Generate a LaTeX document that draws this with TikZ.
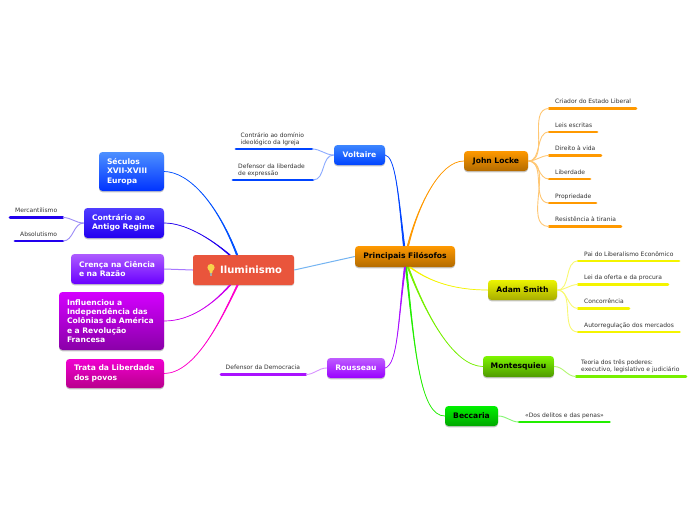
\documentclass[tikz,border=0pt]{standalone}
\usepackage{fontspec}
\setmainfont{DejaVu Sans}
\usetikzlibrary{calc,shadows}
\definecolor{cblue}{HTML}{0044FF}
\definecolor{cblueb}{HTML}{0050FF}
\definecolor{cindigo}{HTML}{2200EE}
\definecolor{cviolet}{HTML}{A878FF}
\definecolor{cmag}{HTML}{CC00EE}
\definecolor{cpink}{HTML}{FF00CC}
\definecolor{corange}{HTML}{FF9900}
\definecolor{cyell}{HTML}{F4F400}
\definecolor{clime}{HTML}{77F000}
\definecolor{cgreen}{HTML}{22EE00}
\definecolor{cpurple}{HTML}{AA11FF}
\definecolor{rootred}{HTML}{E9553C}
\definecolor{rootline}{HTML}{74B4F2}
\definecolor{bulb}{HTML}{F7D44C}
\definecolor{secT}{HTML}{4D90FF}\definecolor{secB}{HTML}{0033FF}
\definecolor{conT}{HTML}{4F3DFF}\definecolor{conB}{HTML}{2200F0}
\definecolor{creT}{HTML}{AE5CFF}\definecolor{creB}{HTML}{6A00FF}
\definecolor{infT}{HTML}{D400FF}\definecolor{infB}{HTML}{8A00A8}
\definecolor{traT}{HTML}{F000D0}\definecolor{traB}{HTML}{B8008C}
\definecolor{orgT}{HTML}{FF9900}\definecolor{orgB}{HTML}{B36B00}
\definecolor{volT}{HTML}{3D86FF}\definecolor{volB}{HTML}{0044FF}
\definecolor{smiT}{HTML}{ECF400}\definecolor{smiB}{HTML}{A8AD00}
\definecolor{monT}{HTML}{7DF500}\definecolor{monB}{HTML}{4F9A00}
\definecolor{becT}{HTML}{00F000}\definecolor{becB}{HTML}{00A800}
\definecolor{rouT}{HTML}{BE5CFF}\definecolor{rouB}{HTML}{9900FF}
\tikzset{
  box/.style={rounded corners=3.5pt,inner sep=0pt,align=left,
    font=\fontsize{7.6}{9.4}\selectfont\bfseries,text=white,
    copy shadow={shadow xshift=0pt,shadow yshift=-1.3pt,draw=none,fill=black,opacity=.22}},
  leaftext/.style={anchor=south west,inner sep=0pt,align=left,text=black!80,
    font=\fontsize{6}{7.2}\selectfont,text depth=1.3pt},
  rule/.style={line width=2.8pt,line cap=round},
  branch/.style={line width=1pt},
}
% name, centre x, centre y, width, height, top colour, bottom colour, extra, text
\newcommand{\topic}[9]{\node[box,minimum width=#4pt,minimum height=#5pt,top color=#6,bottom color=#7,#8] (#1) at (#2,#3) {#9};}
% name, text x, line x1, line x2, line y, colour, text
\newcommand{\leaf}[7]{%
  \node[leaftext] (#1) at (#2,#5-3.2) {#7};
  \coordinate (#1a) at (#3,#5);
  \coordinate (#1b) at (#4,#5);
  \draw[rule,#6] (#1a) -- (#1b);}
% colour, thin end, c1, c2, thick end
\newcommand{\taper}[5]{\filldraw[#1,line width=.7pt,line join=round] (#2) .. controls #3 and #4 .. ($(#5)+(-.7,0)$) -- ($(#5)+(.7,0)$) .. controls #4 and #3 .. (#2) -- cycle;}
\begin{document}
\begin{tikzpicture}[x=1pt,y=-1pt]
\useasboundingbox (0,0) rectangle (696,520);
\fill[white] (0,0) rectangle (696,520);
% main topics
\topic{sec}{131.5}{171.5}{65}{39}{secT}{secB}{text width=49pt}{Séculos\\XVII-XVIII\\Europa}
\topic{con}{124}{223}{80}{30}{conT}{conB}{text width=64pt}{Contrário ao\\Antigo Regime}
\topic{cre}{117.5}{269}{93}{30}{creT}{creB}{text width=77pt}{Crença na Ciência\\e na Razão}
\topic{inf}{111.5}{321}{105}{58}{infT}{infB}{text width=89pt}{Influenciou a\\Independência das\\Colônias da América\\e a Revolução\\Francesa}
\topic{tra}{115}{373.5}{98}{29}{traT}{traB}{text width=82pt}{Trata da Liberdade\\dos povos}
\node[rounded corners=2.5pt,fill=rootred,minimum width=101pt,minimum height=30pt,inner sep=0pt,
  copy shadow={shadow xshift=0pt,shadow yshift=-1pt,draw=none,fill=black,opacity=.15}] (root) at (243.5,270) {};
\node[anchor=west,inner sep=0pt,text=white,font=\fontsize{10}{12}\selectfont\bfseries] (roott) at (220,270) {Iluminismo};
\topic{fil}{405}{256.5}{100}{21}{orgT}{orgB}{text=black,align=center}{Principais Filósofos}
\topic{vol}{359.5}{155}{51}{20}{volT}{volB}{align=center}{Voltaire}
\topic{loc}{496}{161}{64}{20}{orgT}{orgB}{text=black,align=center}{John Locke}
\topic{smi}{522.5}{290}{69}{20}{smiT}{smiB}{text=black,align=center}{Adam Smith}
\topic{mon}{518.5}{366.5}{71}{21}{monT}{monB}{text=black,align=center}{Montesquieu}
\topic{bec}{471.5}{416}{53}{20}{becT}{becB}{text=black,align=center}{Beccaria}
\topic{rou}{356}{368}{58}{20}{rouT}{rouB}{align=center}{Rousseau}
% bulb
\fill[bulb] (211,267.5) circle (3.6pt);
\fill[bulb] (209,269) -- (213,269) -- (212.2,273) -- (209.8,273) -- cycle;
\fill[black!35] (209.7,273.2) rectangle (212.3,275.6);
% hub points
\coordinate (rootA) at ($(root.north)+(-6.5,0)$);
\coordinate (rootB) at ($(root.north)+(-14,0)$);
\coordinate (rootC) at ($(root.south)+(-13.5,0)$);
\coordinate (rootD) at ($(root.south)+(-6,0)$);
\coordinate (filA) at ($(fil.north)+(-1,0)$);
\coordinate (filB) at ($(fil.north)+(3,0)$);
\coordinate (filC) at ($(fil.south)+(5,0)$);
\coordinate (filD) at ($(fil.south)+(3,0)$);
\coordinate (filE) at ($(fil.south)+(1,0)$);
\coordinate (filF) at ($(fil.south)+(0,0)$);
% root connectors
\taper{cblueb}{sec.east}{(190,172)}{(218,205)}{rootA}
\taper{cindigo}{con.east}{(185,223)}{(210,238)}{rootB}
\draw[branch,cviolet] (cre.east) -- (root.west);
\taper{cmag}{inf.east}{(190,321)}{(212,305)}{rootC}
\taper{cpink}{tra.east}{(195,373)}{(220,322)}{rootD}
\draw[rootline,line width=1pt] (root.east) -- (fil.west);
% philosopher connectors
\taper{cblue}{vol.east}{(395,157)}{(398,190)}{filA}
\taper{corange}{loc.west}{(440,161)}{(418,205)}{filB}
\taper{cyell}{smi.west}{(455,290)}{(430,282)}{filC}
\taper{clime}{mon.west}{(455,366)}{(428,320)}{filD}
\taper{cgreen}{bec.west}{(420,416)}{(415,350)}{filE}
\taper{cpurple}{rou.east}{(398,364)}{(398,320)}{filF}
% leaves
\leaf{mer}{15}{10}{63}{217.5}{cindigo}{Mercantilismo}
\leaf{abs}{20}{15}{63}{241}{cindigo}{Absolutismo}
\leaf{vo1}{240.5}{236}{312}{149}{cblue}{Contrário ao domínio\\ideológico da Igreja}
\leaf{vo2}{238}{233}{313}{180}{cblue}{Defensor da liberdade\\de expressão}
\leaf{lo1}{555}{549}{636}{108.5}{corange}{Criador do Estado Liberal}
\leaf{lo2}{555}{549}{597}{132}{corange}{Leis escritas}
\leaf{lo3}{555}{549}{601}{155.5}{corange}{Direito à vida}
\leaf{lo4}{555}{549}{590}{179}{corange}{Liberdade}
\leaf{lo5}{555}{549}{596}{203}{corange}{Propriedade}
\leaf{lo6}{555}{549}{621}{226.5}{corange}{Resistência à tirania}
\leaf{sm1}{584}{578}{679}{261}{cyell}{Pai do Liberalismo Econômico}
\leaf{sm2}{584}{578}{668}{284.5}{cyell}{Lei da oferta e da procura}
\leaf{sm3}{584}{578}{629}{308.5}{cyell}{Concorrência}
\leaf{sm4}{584}{578}{679.5}{332}{cyell}{Autorregulação dos mercados}
\leaf{mo1}{581}{576}{686}{376.5}{clime}{Teoria dos três poderes:\\executivo, legislativo e judiciário}
\leaf{be1}{525}{519}{609.5}{422}{cgreen}{«Dos delitos e das penas»}
\leaf{ro1}{225.5}{221}{306}{374.5}{cpurple}{Defensor da Democracia}
% leaf connectors
\foreach \f/\t/\c in {vol/vo1/cblue,vol/vo2/cblue,con/mer/cindigo,con/abs/cindigo,rou/ro1/cpurple}
  \draw[\c!45,line width=.9pt] (\f.west) to[out=180,in=0] (\t b);
\foreach \f/\t/\c in {loc/lo1/corange,loc/lo2/corange,loc/lo3/corange,loc/lo4/corange,loc/lo5/corange,loc/lo6/corange,
  smi/sm1/cyell,smi/sm2/cyell,smi/sm3/cyell,smi/sm4/cyell,mon/mo1/clime,bec/be1/cgreen}
  \draw[\c!55,line width=.9pt] (\f.east) to[out=0,in=180] (\t a);
\end{tikzpicture}
\end{document}
